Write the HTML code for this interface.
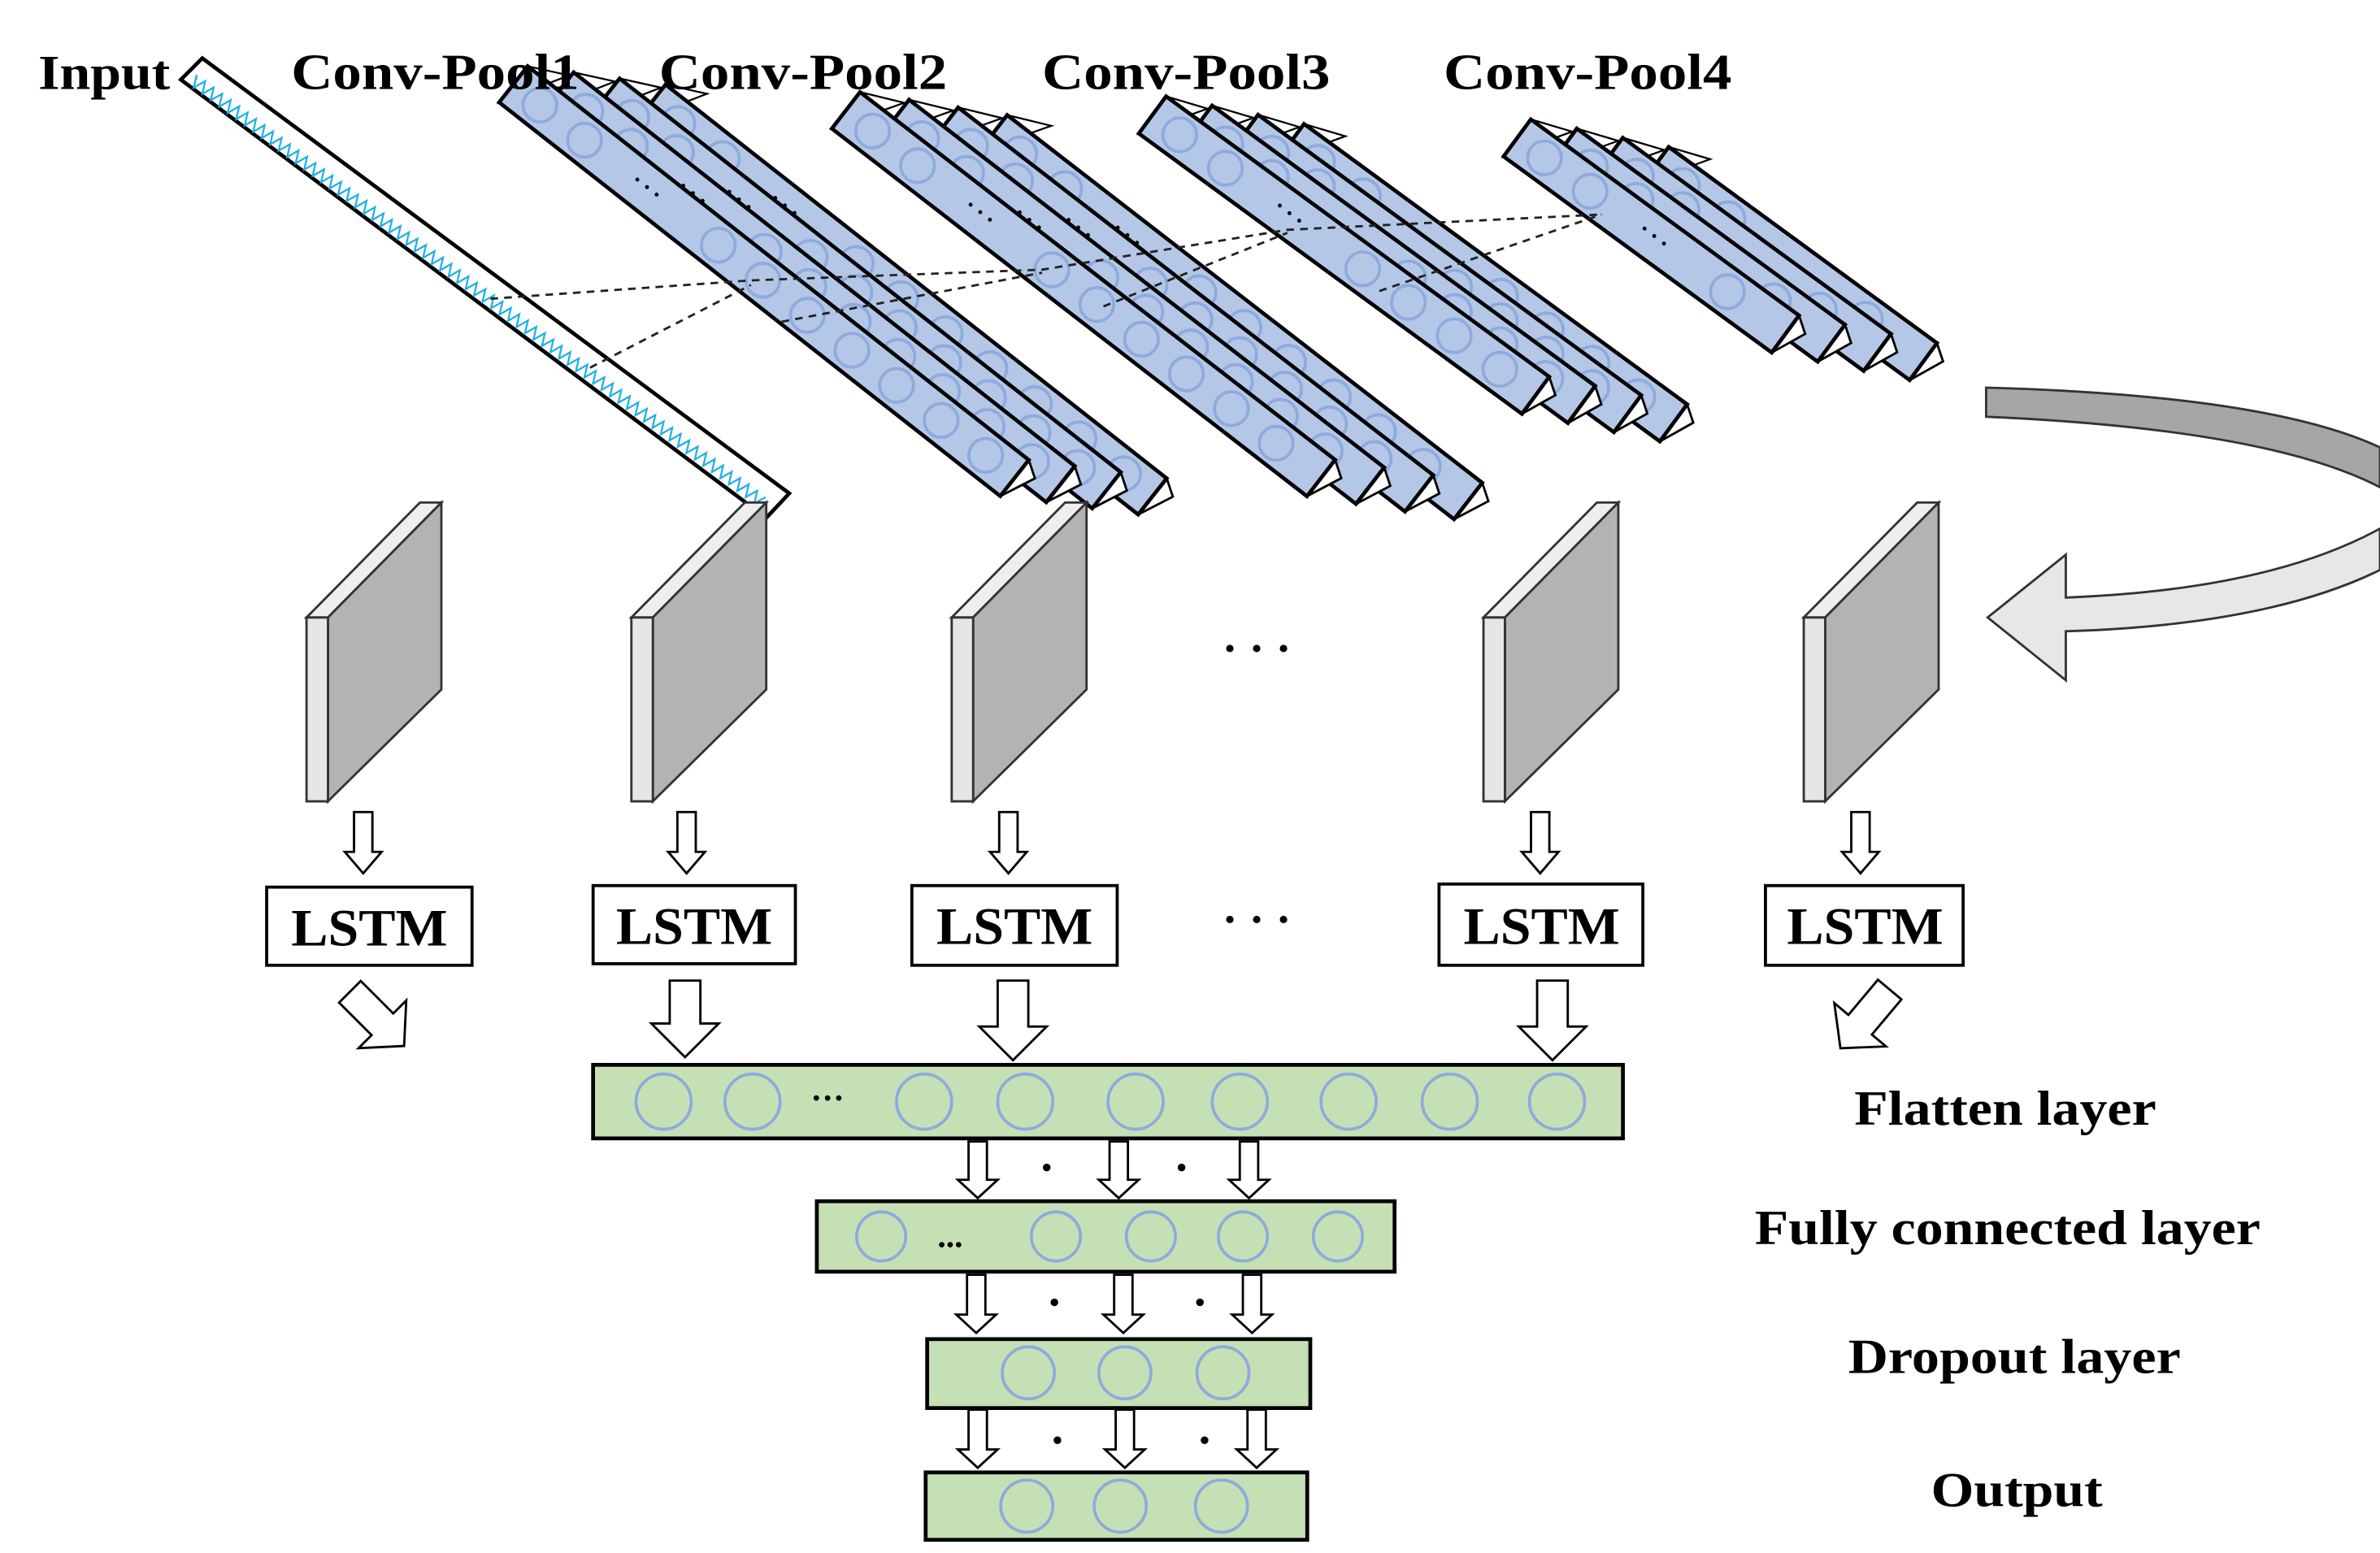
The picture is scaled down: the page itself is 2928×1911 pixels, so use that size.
<!DOCTYPE html>
<html><head><meta charset="utf-8"><style>
html,body{margin:0;padding:0;background:#fff;}
svg{display:block;}
text{font-family:"Liberation Serif",serif;font-weight:bold;fill:#000;}
</style></head><body>
<svg id="s" width="2928" height="1911" viewBox="0 0 1553 1013.6" xmlns="http://www.w3.org/2000/svg">
<g id="g"></g>
<text x="25" y="58" font-size="32" textLength="86" lengthAdjust="spacingAndGlyphs">Input</text>
<text x="190" y="58" font-size="33" textLength="188" lengthAdjust="spacingAndGlyphs">Conv-Pool1</text>
<text x="430" y="58" font-size="33" textLength="188" lengthAdjust="spacingAndGlyphs">Conv-Pool2</text>
<text x="680" y="58" font-size="33" textLength="188" lengthAdjust="spacingAndGlyphs">Conv-Pool3</text>
<text x="942" y="58" font-size="33" textLength="188" lengthAdjust="spacingAndGlyphs">Conv-Pool4</text>
<text x="190" y="617" font-size="34" textLength="102" lengthAdjust="spacingAndGlyphs">LSTM</text>
<text x="402" y="616" font-size="34" textLength="102" lengthAdjust="spacingAndGlyphs">LSTM</text>
<text x="611" y="616" font-size="34" textLength="102" lengthAdjust="spacingAndGlyphs">LSTM</text>
<text x="955" y="616" font-size="34" textLength="102" lengthAdjust="spacingAndGlyphs">LSTM</text>
<text x="1166" y="616" font-size="34" textLength="102" lengthAdjust="spacingAndGlyphs">LSTM</text>
<text x="820" y="433" font-size="30" text-anchor="middle">· · ·</text>
<text x="820" y="610" font-size="30" text-anchor="middle">· · ·</text>
<text x="1210" y="734" font-size="32" textLength="197" lengthAdjust="spacingAndGlyphs">Flatten layer</text>
<text x="1145" y="812" font-size="32" textLength="330" lengthAdjust="spacingAndGlyphs">Fully connected layer</text>
<text x="1206" y="896" font-size="32" textLength="217" lengthAdjust="spacingAndGlyphs">Dropout layer</text>
<text x="1260" y="983" font-size="32" textLength="112" lengthAdjust="spacingAndGlyphs">Output</text>
<text x="540" y="724" font-size="22" text-anchor="middle">···</text>
<text x="620" y="814" font-size="22" text-anchor="middle">...</text>
</svg>
<script>
var g=document.getElementById('g'),h='';
function P(pts,f,s,w,extra){return '<polygon points="'+pts.map(p=>p[0].toFixed(1)+','+p[1].toFixed(1)).join(' ')+'" fill="'+f+'" stroke="'+(s||'#000')+'" stroke-width="'+(w||2)+'" '+(extra||'')+'/>';}
h+='<path d="M1296,253 Q1480,258 1553,292 L1553,318 Q1480,280 1296,272 Z" fill="#a6a6a6" stroke="#333" stroke-width="1.5"/>';
h+='<path d="M1553,345 Q1480,385 1348,390 L1348,362 L1297,403 L1348,444 L1348,412 Q1480,408 1553,372 Z" fill="#e7e7e7" stroke="#333" stroke-width="1.5"/>';
(function(){var a=[118,52],b=[132,38],c=[515,322],d=[500,338];
h+=P([a,b,c,d],'#fff','#000',2.5);
var z='M128,52';var ux=(505-125)/480,uy=(327-45)/480;
for(var i=0;i<=470;i+=3.5){var k=((i/3.5)%2)?1:-1;
 var px=126+ux*i - uy*k*4, py=52+uy*i + ux*k*4; z+=' L'+px.toFixed(1)+','+py.toFixed(1);}
h+='<path d="'+z+'" fill="none" stroke="#1fb0e8" stroke-width="1.2"/>';})();
function slab(t,b,n,off,W){var dx=b[0]-t[0],dy=b[1]-t[1],L=Math.hypot(dx,dy),ux=dx/L,uy=dy/L,px=uy,py=-ux;
 for(var i=n-1;i>=0;i--){var ox=t[0]+off[0]*i,oy=t[1]+off[1]*i;
  var A=[ox-px*W/2,oy-py*W/2],B=[ox+px*W/2,oy+py*W/2],C=[B[0]+dx,B[1]+dy],D=[A[0]+dx,A[1]+dy];
  h+=P([D,C,[C[0]+4,C[1]+12]],'#fff','#000',1.5);
  h+=P([A,B,[B[0]+off[0]*0.9,B[1]+off[1]+2]],'#fff','#000',1.2);
  h+=P([A,B,C,D],'#b4c7e7','#000',2.5);
  for(var s=22;s<L-10;s+=37){if(s>90&&s<140)continue;var cx=ox+ux*s,cy=oy+uy*s;h+='<circle cx="'+cx.toFixed(1)+'" cy="'+cy.toFixed(1)+'" r="11" fill="none" stroke="#8faadc" stroke-width="2"/>';}
  var mx=ox+ux*110,my=oy+uy*110;h+='<text x="'+mx+'" y="'+my+'" font-size="16" transform="rotate(38 '+mx+' '+my+')" text-anchor="middle">. . .</text>';
 }}
slab([335,55],[662,312],4,[30,4],30);
slab([552,72],[862,312],4,[32,5],30);
slab([752,75],[1002,258],4,[30,6],30);
slab([990,90],[1165,218],4,[30,6],30);
h+='<g stroke="#222" stroke-width="1.5" stroke-dasharray="5,4" fill="none"><path d="M320,195 L490,183 L680,176 L840,150 L1045,140"/><path d="M385,240 L490,186 M510,210 L680,178 M720,200 L840,152 M900,190 L1045,140"/></g>';
[200,412,621,968,1177].forEach(function(x){
 h+=P([[x,403],[x+74,328],[x+88,328],[x+14,403]],'#eee','#333',1.5);
 h+=P([[x+14,403],[x+88,328],[x+88,450],[x+14,523]],'#b3b3b3','#333',1.5);
 h+=P([[x,403],[x+14,403],[x+14,523],[x,523]],'#e6e6e6','#333',1.5);});
function arr(x,y1,y2,sw,hw,hl,rot){var pts=[[x-sw,y1],[x+sw,y1],[x+sw,y2-hl],[x+hw,y2-hl],[x,y2],[x-hw,y2-hl],[x-sw,y2-hl]];
 h+=P(pts,'#fff','#000',1.5,rot?'transform="rotate('+rot+' '+x+' '+((y1+y2)/2)+')"':'');}
[237,448,658,1005,1214].forEach(function(x){arr(x,530,570,6,12,14);});
[[174,579,134,51],[387,578,132,51],[595,578,134,52],[939,577,133,53],[1152,578,129,52]].forEach(function(r){h+='<rect x="'+r[0]+'" y="'+r[1]+'" width="'+r[2]+'" height="'+r[3]+'" fill="#fff" stroke="#000" stroke-width="2"/>';});
arr(246,640,690,10,22,20,-45);arr(447,640,690,10,22,22);arr(661,640,692,10,22,22);arr(1013,640,692,10,22,22);arr(1217,640,690,10,22,20,40);
function layer(x1,y1,x2,y2,cs,cy,r){h+='<rect x="'+x1+'" y="'+y1+'" width="'+(x2-x1)+'" height="'+(y2-y1)+'" fill="#c5e0b4" stroke="#000" stroke-width="2.5"/>';
 cs.forEach(function(c){h+='<circle cx="'+c+'" cy="'+cy+'" r="'+r+'" fill="none" stroke="#8faadc" stroke-width="2"/>';});}
layer(387,695,1059,743,[433,491,603,669,741,809,880,946,1016],719,18);
layer(533,784,910,830,[575,689,751,811,873],807,16);
layer(605,874,855,919,[671,734,798],896,17);
layer(604,961,853,1005,[670,731,797],983,17);
[638,730,815].forEach(function(x){arr(x,745,782,6,13,12);});
[637,733,817].forEach(function(x){arr(x,832,870,6,13,12);});
[638,734,820].forEach(function(x){arr(x,920,958,6,13,12);});
[[683,762],[771,762],[688,850],[783,850],[690,940],[786,940]].forEach(function(p){h+='<circle cx="'+p[0]+'" cy="'+p[1]+'" r="2.5" fill="#000"/>';});
g.innerHTML=h;
</script>
</body></html>
